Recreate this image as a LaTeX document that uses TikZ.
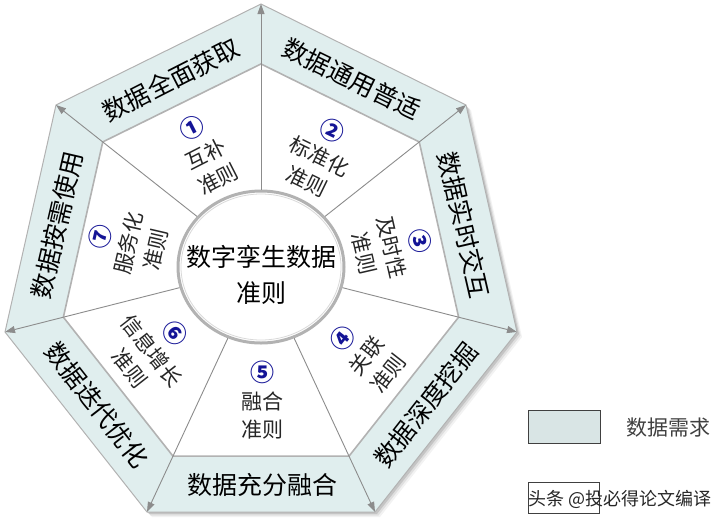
\documentclass[tikz,border=0pt]{standalone}
\usepackage{fontspec}
\setmainfont{Noto Sans CJK SC}
\usetikzlibrary{calc,arrows.meta,shapes.geometric}
\definecolor{bandfill}{RGB}{224,238,238}
\definecolor{legendfill}{RGB}{217,229,229}
\definecolor{numblue}{RGB}{20,20,150}
\definecolor{linegray}{RGB}{140,140,140}
\tikzset{
	needtext/.style={font=\fontsize{25}{30}\selectfont, text=black, inner sep=0pt},
	ruletext/.style={font=\fontsize{21}{28}\selectfont, text=black!85, align=center, inner sep=0pt},
	spoke/.style={draw=linegray, line width=0.9pt, -{Triangle[length=10pt,width=7pt]}},
	keybox/.style={draw=gray!50!black, line width=0.8pt, inner sep=0pt},
}
\def\rulenum#1{{\fontsize{24}{28}\selectfont\bfseries\color{numblue}#1}}

\begin{document}
\begin{tikzpicture}[x=1pt, y=-1pt]
			%%%%% START %%%%%
			\useasboundingbox (0,0) rectangle (728,523);
			
			\coordinate (c) at (261,267);
			\coordinate (o1) at (261,4);
			\coordinate (o2) at (466,105);
			\coordinate (o3) at (517,332);
			\coordinate (o4) at (375,512);
			\coordinate (o5) at (147,512);
			\coordinate (o6) at (5,332);
			\coordinate (o7) at (56,105);
			\foreach \k in {1,...,7}
				\coordinate (i\k) at ($(c)!0.772!(o\k)$);
			
			% soft shadow of the outer ring
			\foreach \s/\a in {5/0.05, 3.5/0.08, 2/0.12}{
				\begin{scope}[transform canvas={shift={(\s pt,-\s pt)}}]
					\fill[black, opacity=\a] (o1) -- (o2) -- (o3) -- (o4) -- (o5) -- (o6) -- (o7) -- cycle;
				\end{scope}
			}
			
			\fill[bandfill] (o1) -- (o2) -- (o3) -- (o4) -- (o5) -- (o6) -- (o7) -- cycle;
			\draw[gray!60, line width=1pt] (o1) -- (o2) -- (o3) -- (o4) -- (o5) -- (o6) -- (o7) -- cycle;
			\filldraw[fill=white, draw=gray!60, line width=1.6pt] (i1) -- (i2) -- (i3) -- (i4) -- (i5) -- (i6) -- (i7) -- cycle;
			
			\node[ellipse, minimum width=166pt, minimum height=152pt, inner sep=0pt, fill=white, draw=gray!60, line width=3pt] (core) at (c) {};
			\draw[gray!30, line width=0.8pt] (c) ellipse [x radius=80, y radius=73];
			\node[align=center, font=\fontsize{25}{36}\selectfont] (corelabel) at (261,275) {数字孪生数据\\准则};
			
			\foreach \k in {1,...,7}
				\draw[spoke] (core) -- (o\k);
			
			% data needs on the ring
			\node[needtext, rotate=27] (need1) at (171,80) {数据全面获取};
			\node[needtext, rotate=-26] (need2) at (352,79) {数据通用普适};
			\node[needtext, rotate=-77] (need3) at (464,225) {数据实时交互};
			\node[needtext, rotate=52] (need4) at (426,405) {数据深度挖掘};
			\node[needtext] (need5) at (262,485) {数据充分融合};
			\node[needtext, rotate=-52] (need6) at (97,405) {数据迭代优化};
			\node[needtext, rotate=77] (need7) at (57,225) {数据按需使用};
			
			% rules in the sectors
			\node[ruletext, rotate=27] (rule1) at (205,153) {\rulenum{①}\\互补\\准则};
			\node[ruletext, rotate=-26] (rule2) at (320,155) {\rulenum{②}\\标准化\\准则};
			\node[ruletext, rotate=-77] (rule3) at (393,247) {\rulenum{③}\\及时性\\准则};
			\node[ruletext, rotate=52] (rule4) at (365,355) {\rulenum{④}\\关联\\准则};
			\node[ruletext] (rule5) at (262,400) {\rulenum{⑤}\\融合\\准则};
			\node[ruletext, rotate=-52] (rule6) at (153,350) {\rulenum{⑥}\\信息增长\\准则};
			\node[ruletext, rotate=77] (rule7) at (127,243) {\rulenum{⑦}\\服务化\\准则};
			
			% legend
			\node[keybox, fill=legendfill, minimum width=72pt, minimum height=33pt] (keyneed) at (564,426.5) {};
			\node[font=\fontsize{21}{24}\selectfont, text=black!75] (keyneedlabel) at (668,428) {数据需求};
			\node[keybox, fill=white, minimum width=71pt, minimum height=31pt] (keyrule) at (563.5,497.5) {};
			\node[font=\fontsize{18}{20}\selectfont, text=black!85] (mark) at (620,499) {头条 @投必得论文编译};
			
			%%%%% END %%%%%
\end{tikzpicture}
\end{document}
